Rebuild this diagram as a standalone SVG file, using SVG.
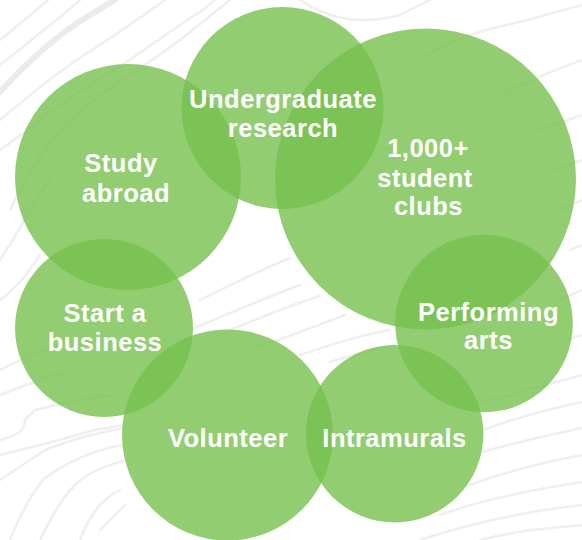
<svg xmlns="http://www.w3.org/2000/svg" width="582" height="540" viewBox="0 0 582 540">
  <style>
    .bg { fill: #ffffff; }
    .topo { fill: none; stroke: #efefef; stroke-width: 2.5; stroke-linejoin: round; stroke-linecap: round; }
    .topo-thick { fill: none; stroke: #ebebeb; stroke-width: 6; stroke-linecap: round; }
    .bubble { fill: rgb(117,192,76); fill-opacity: 0.79; }
    .label { font-family: "Liberation Sans", Arial, Helvetica, sans-serif; font-weight: bold; font-size: 25.5px; fill: #ffffff; text-anchor: middle; letter-spacing: 0.5px; }
  </style>
  <rect class="bg" x="0" y="0" width="582" height="540"/>

  <g id="background-lines">
    <path class="topo-thick" d="M0,92 C20,70 50,40 85,18 L115,0"/>
    <path class="topo" d="M0,40 C15,28 30,15 48,0"/>
    <path class="topo" d="M0,65 C25,45 55,22 80,0"/>
    <path class="topo" d="M0,120 C30,95 60,70 95,48 C120,32 140,18 165,0"/>
    <path class="topo" d="M0,150 C35,125 70,95 110,72 C140,55 170,30 200,12 L215,0"/>
    <path class="topo" d="M10,210 C25,180 40,150 70,120 C100,92 140,70 180,40 L230,0"/>
    <path class="topo" d="M0,260 C20,230 35,200 55,170"/>
    <path class="topo" d="M0,300 C20,285 30,270 40,255"/>
    <path class="topo" d="M300,0 C330,20 360,25 400,15 L430,0"/>
    <path class="topo" d="M420,60 C450,40 480,30 520,22 L582,5"/>
    <path class="topo" d="M500,95 C530,80 555,70 582,60"/>
    <path class="topo" d="M540,130 L582,115"/>
    <path class="topo" d="M555,170 L582,160"/>
    <path class="topo" d="M560,210 L582,200"/>
    <path class="topo" d="M570,250 L582,245"/>
    <path class="topo" d="M0,370 C20,360 40,350 60,345"/>
    <path class="topo" d="M0,395 C25,385 45,378 70,370"/>
    <path class="topo" d="M0,440 C15,436 25,432 25,420 L35,410 C55,405 80,400 110,395"/>
    <path class="topo" d="M0,455 C30,448 60,440 95,430 L125,425"/>
    <path class="topo" d="M0,480 C15,470 30,460 45,450 C70,440 95,433 125,428"/>
    <path class="topo" d="M10,540 C20,515 30,495 45,478 C70,460 95,450 122,445"/>
    <path class="topo" d="M40,540 C50,520 60,500 75,485 C90,470 110,465 125,460"/>
    <path class="topo" d="M80,540 C90,515 100,500 120,490"/>
    <path class="topo" d="M100,530 L125,505"/>
    <path class="topo" d="M200,300 C230,285 260,270 290,258"/>
    <path class="topo" d="M190,330 C225,315 260,300 300,285"/>
    <path class="topo" d="M230,330 C260,318 290,305 320,296"/>
    <path class="topo" d="M250,350 C280,340 310,328 345,315"/>
    <path class="topo" d="M300,355 C330,345 360,335 390,330"/>
    <path class="topo" d="M330,362 C350,356 370,350 395,345"/>
    <path class="topo" d="M483,402 C510,395 545,385 582,375"/>
    <path class="topo" d="M483,430 C510,420 545,410 582,402"/>
    <path class="topo" d="M483,452 C515,442 550,435 582,428"/>
    <path class="topo" d="M470,485 C505,472 545,462 582,455"/>
    <path class="topo" d="M440,515 C480,500 530,490 582,482"/>
    <path class="topo" d="M420,540 C465,525 520,512 582,505"/>
    <path class="topo" d="M480,540 C520,530 550,528 582,525"/>
    <path class="topo" d="M560,300 L582,290"/>
    <path class="topo" d="M565,340 L582,335"/>
  </g>

  <g id="node-undergraduate-research">
    <circle class="bubble" cx="282.5" cy="108" r="101"/>
  </g>
  <g id="node-study-abroad">
    <circle class="bubble" cx="128" cy="177" r="113"/>
  </g>
  <g id="node-student-clubs">
    <circle class="bubble" cx="425.5" cy="179" r="150.5"/>
  </g>
  <g id="node-start-a-business">
    <circle class="bubble" cx="104" cy="328" r="89"/>
  </g>
  <g id="node-performing-arts">
    <circle class="bubble" cx="484" cy="323.5" r="88.8"/>
  </g>
  <g id="node-volunteer">
    <circle class="bubble" cx="227.5" cy="435" r="105.5"/>
  </g>
  <g id="node-intramurals">
    <circle class="bubble" cx="394.7" cy="433.7" r="88.7"/>
  </g>

  <g id="labels">
    <text class="label" x="283" y="107.5">Undergraduate</text>
    <text class="label" x="283" y="137">research</text>
    <text class="label" x="121" y="172">Study</text>
    <text class="label" x="126" y="201.7">abroad</text>
    <text class="label" x="428" y="156.7">1,000+</text>
    <text class="label" x="425" y="186.7">student</text>
    <text class="label" x="428.5" y="215">clubs</text>
    <text class="label" x="105" y="321.7">Start a</text>
    <text class="label" x="105" y="351">business</text>
    <text class="label" x="488.5" y="320.7">Performing</text>
    <text class="label" x="488.5" y="349.3">arts</text>
    <text class="label" x="228" y="447.3">Volunteer</text>
    <text class="label" x="394.5" y="447.3">Intramurals</text>
  </g>

  <g id="connectors"></g>
</svg>
